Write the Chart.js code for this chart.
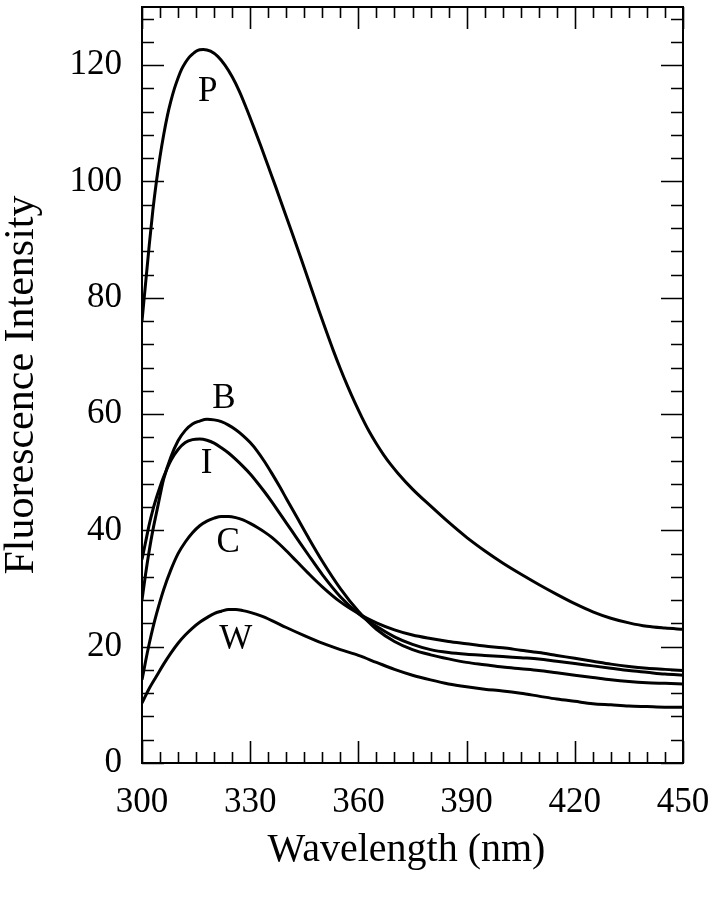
<!DOCTYPE html>
<html>
<head>
<meta charset="utf-8">
<script src="https://cdn.jsdelivr.net/npm/chart.js@4/dist/chart.umd.min.js"></script>
<style>
html,body{margin:0;padding:0;background:#fff;}
#wrap{width:713px;height:899px;}
</style>
</head>
<body>
<div id="wrap"><canvas id="c" width="713" height="899"></canvas></div>
<script>
// ---- data (wavelength nm, fluorescence intensity) ----
const pX = [300,301,302,303,304,305,306,307,308,309,310,311,312,313,314,315,316,317,319,321,323,325,327,329,331,333,335,337,339,341,343,345,347,349,351,353,355,357,359,361,363,365,367,369,371,375,380,385,390,395,400,405,410,415,420,425,430,435,440,445,450];
const pY = [76,82.5,89,95,100,104.3,108,111.2,113.8,116,117.8,119.3,120.4,121.3,121.9,122.4,122.65,122.7,122.4,121.5,120.0,118.0,115.5,112.5,109.3,106.0,102.6,99.2,95.7,92.2,88.7,85.1,81.5,77.9,74.4,71.0,67.8,64.8,62.0,59.4,57.0,54.9,53.0,51.3,49.8,47.1,44.2,41.4,38.8,36.5,34.4,32.5,30.7,29.0,27.4,26.0,24.9,24.1,23.5,23.2,23.0];

const bX = [300,301,302,303,304,305,306,308,310,312,314,316,318,320,322,324,326,328,330,332,334,336,338,340,343,346,350,355,360,365,370,375,380,385,390,395,400,405,410,415,420,425,430,435,440,445,450];
const bY = [28,32.5,36.5,40,43,46,48.8,52.6,55.4,57.2,58.3,58.8,59.1,59.0,58.7,58.1,57.3,56.3,55.1,53.6,51.8,49.8,47.7,45.5,42.2,38.9,34.7,30.0,26.1,23.0,20.9,19.5,18.6,17.9,17.3,16.9,16.5,16.2,15.9,15.5,15.1,14.7,14.3,14.0,13.8,13.7,13.6];

const iX = [300,301,302,303,304,305,306,308,310,312,314,316,318,320,322,324,326,328,330,332,334,336,338,340,343,346,350,355,360,365,370,375,380,385,390,395,400,405,410,415,420,425,430,435,440,445,450];
const iY = [35,38,41,43.5,45.6,47.5,49.2,52,53.9,55.1,55.6,55.7,55.5,55.0,54.2,53.3,52.2,51.0,49.7,48.2,46.6,44.9,43.1,41.3,38.6,35.9,32.4,28.6,25.7,23.5,21.7,20.4,19.5,19.0,18.7,18.5,18.3,18.1,17.9,17.5,17.1,16.7,16.3,15.9,15.6,15.3,15.1];

const cX = [300,301,302,303,304,306,308,310,312,314,316,318,320,322,324,326,328,330,332,334,336,338,340,343,346,350,355,360,365,370,375,380,385,390,395,400,405,410,415,420,425,430,435,440,445,450];
const cY = [14.3,17.5,20.5,23.2,25.6,29.8,33.2,36,38,39.6,40.8,41.6,42.1,42.4,42.4,42.2,41.8,41.2,40.5,39.7,38.8,37.7,36.5,34.6,32.7,30.3,27.7,25.7,24.1,22.9,22.0,21.4,20.9,20.5,20.1,19.8,19.4,19.0,18.5,18.0,17.5,17.0,16.6,16.3,16.1,15.9];

const wX = [300,302,304,306,308,310,312,314,316,318,320,322,324,326,328,330,333,336,340,345,350,355,360,365,370,375,380,385,390,395,400,405,410,415,420,425,430,435,440,445,450];
const wY = [10.3,12.8,14.9,17.0,18.9,20.6,22.0,23.2,24.2,25.0,25.7,26.1,26.4,26.4,26.2,25.9,25.3,24.5,23.3,21.9,20.6,19.5,18.5,17.3,16.1,15.1,14.3,13.6,13.1,12.7,12.4,12.0,11.5,11.0,10.6,10.2,10.0,9.8,9.7,9.6,9.6];

const seriesNames = ['P','B','I','C','W'];
const xTicks = [300,330,360,390,420,450];
const yTicks = [0,20,40,60,80,100,120];
const xMinorStep = 5;
const yMinorStep = 4;
const xTitle = 'Wavelength (nm)';
const yTitle = 'Fluorescence Intensity';

// curve label anchors (wavelength, intensity)
const curveLabels = [
  {t:'P', x:318.2, y:115.4},
  {t:'B', x:322.7, y:62.7},
  {t:'I', x:317.9, y:51.4},
  {t:'C', x:323.9, y:37.8},
  {t:'W', x:326.0, y:21.2}
];

function pts(xs, ys){ return xs.map((x,i)=>({x:x, y:ys[i]})); }
const allX = [pX,bX,iX,cX,wX];
const allY = [pY,bY,iY,cY,wY];

const FONT = '"Liberation Serif", "Times New Roman", serif';

const framePlugin = {
  id:'frame',
  afterDatasetsDraw(chart){
    const {ctx, chartArea:a, scales:{x, y}} = chart;
    ctx.save();
    ctx.strokeStyle = '#000';
    ctx.lineWidth = 2;
    ctx.strokeRect(a.left, a.top, a.right - a.left, a.bottom - a.top);
    ctx.lineWidth = 1.6;
    ctx.beginPath();
    for (let v = x.min; v <= x.max + 1e-9; v += xMinorStep) {
      const px = Math.round(x.getPixelForValue(v)) + 0.5;
      const major = xTicks.includes(v);
      const len = major ? 22 : 11;
      ctx.moveTo(px, a.bottom); ctx.lineTo(px, a.bottom - len);
      ctx.moveTo(px, a.top); ctx.lineTo(px, a.top + len);
    }
    for (let v = y.min; v <= y.max + 1e-9; v += yMinorStep) {
      const py = Math.round(y.getPixelForValue(v)) + 0.5;
      const major = yTicks.includes(v);
      const len = major ? 22 : 12;
      ctx.moveTo(a.left, py); ctx.lineTo(a.left + len, py);
      ctx.moveTo(a.right, py); ctx.lineTo(a.right - len, py);
    }
    ctx.stroke();
    ctx.fillStyle = '#000';
    ctx.font = '35px ' + FONT;
    ctx.textAlign = 'center';
    ctx.textBaseline = 'middle';
    curveLabels.forEach(l => {
      ctx.fillText(l.t, x.getPixelForValue(l.x), y.getPixelForValue(l.y));
    });
    // x axis title
    ctx.font = '40px ' + FONT;
    ctx.fillText(xTitle, (a.left + a.right) / 2 - 6, 850);
    ctx.restore();
  }
};

new Chart(document.getElementById('c'), {
  type:'line',
  data:{
    datasets: seriesNames.map((n,k)=>({
      label:n,
      data:pts(allX[k], allY[k]),
      borderColor:'#000',
      borderWidth:3,
      pointRadius:0,
      fill:false,
      cubicInterpolationMode:'monotone'
    }))
  },
  options:{
    responsive:false,
    animation:false,
    devicePixelRatio:1,
    layout:{padding:{top:7,right:30,left:0,bottom:0}},
    plugins:{legend:{display:false}, tooltip:{enabled:false}},
    scales:{
      x:{
        type:'linear', min:300, max:450,
        afterBuildTicks:s=>{ s.ticks = xTicks.map(v=>({value:v})); },
        afterFit:s=>{ s.height = 136; s.paddingLeft = 0; s.paddingRight = 0; },
        grid:{display:false, drawTicks:false}, border:{display:false},
        ticks:{color:'#000', font:{family:FONT, size:35}, padding:19, maxRotation:0, autoSkip:false},
        title:{display:false}
      },
      y:{
        type:'linear', min:0, max:130,
        afterBuildTicks:s=>{ s.ticks = yTicks.map(v=>({value:v})); },
        afterFit:s=>{ s.width = 142; s.paddingTop = 0; s.paddingBottom = 0; },
        grid:{display:false, drawTicks:false}, border:{display:false},
        ticks:{color:'#000', font:{family:FONT, size:35}, padding:20},
        title:{display:true, text:yTitle, color:'#000', font:{family:FONT, size:42, lineHeight:1.05}, padding:{top:0,bottom:0}}
      }
    }
  },
  plugins:[framePlugin]
});
</script>
</body>
</html>
